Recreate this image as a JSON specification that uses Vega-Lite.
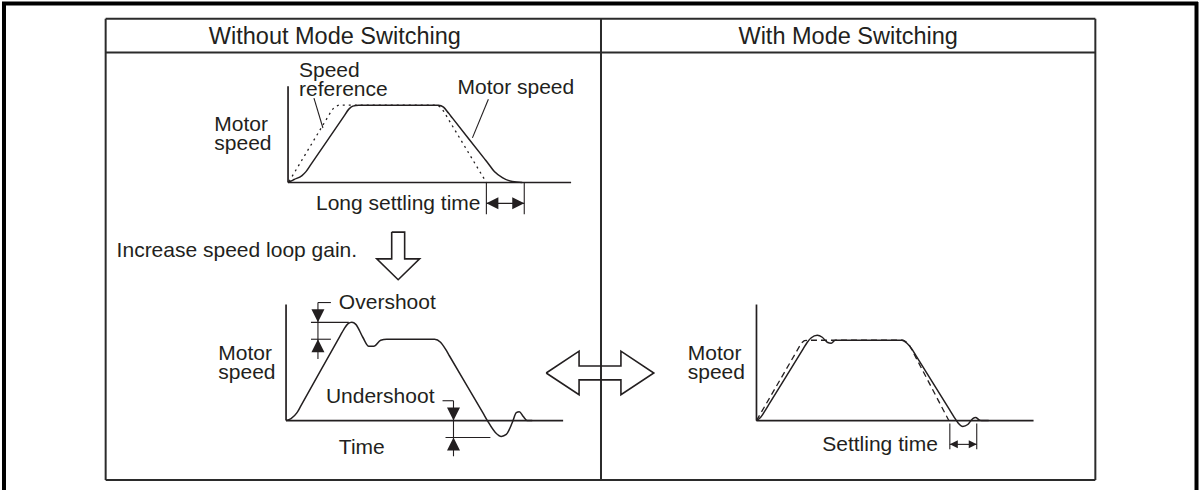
{
  "$schema": "https://vega.github.io/schema/vega-lite/v6.json",
  "width": 1200,
  "height": 492,
  "padding": 0,
  "autosize": {"type": "fit", "contains": "padding"},
  "background": "white",
  "config": {"view": {"stroke": null}},
  "datasets": {
    "frame": [
      {"x1": 0, "y1": 1.5, "x2": 1200, "y2": 1.5},
      {"x1": 2, "y1": 0, "x2": 2, "y2": 492},
      {"x1": 1198.5, "y1": 0, "x2": 1198.5, "y2": 492}
    ],
    "table": [
      {"x1": 104, "y1": 17, "x2": 1097, "y2": 17},
      {"x1": 104, "y1": 482, "x2": 1097, "y2": 482},
      {"x1": 104, "y1": 17, "x2": 104, "y2": 482},
      {"x1": 1097, "y1": 17, "x2": 1097, "y2": 482},
      {"x1": 104, "y1": 51, "x2": 1097, "y2": 51},
      {"x1": 601, "y1": 17, "x2": 601, "y2": 482}
    ],
    "axes": [
      {"x1": 287, "y1": 85, "x2": 287, "y2": 182},
      {"x1": 287, "y1": 182, "x2": 571, "y2": 182},
      {"x1": 285, "y1": 305, "x2": 285, "y2": 422},
      {"x1": 285, "y1": 422, "x2": 563, "y2": 422},
      {"x1": 757, "y1": 305, "x2": 757, "y2": 422},
      {"x1": 757, "y1": 422, "x2": 1035, "y2": 422}
    ],
    "thin": [
      {"x1": 313, "y1": 97, "x2": 322, "y2": 127},
      {"x1": 488, "y1": 98, "x2": 472, "y2": 137},
      {"x1": 486, "y1": 182, "x2": 486, "y2": 214},
      {"x1": 524, "y1": 182, "x2": 524, "y2": 214},
      {"x1": 486, "y1": 203, "x2": 524, "y2": 203},
      {"x1": 317, "y1": 303, "x2": 330, "y2": 303},
      {"x1": 317, "y1": 303, "x2": 317, "y2": 360},
      {"x1": 310, "y1": 323, "x2": 348, "y2": 323},
      {"x1": 310, "y1": 340, "x2": 330, "y2": 340},
      {"x1": 442, "y1": 402, "x2": 453, "y2": 402},
      {"x1": 453, "y1": 402, "x2": 453, "y2": 458},
      {"x1": 445, "y1": 439, "x2": 490, "y2": 439},
      {"x1": 951, "y1": 425, "x2": 951, "y2": 451},
      {"x1": 978, "y1": 425, "x2": 978, "y2": 451},
      {"x1": 951, "y1": 446, "x2": 978, "y2": 446}
    ],
    "outline": [
      {"id": "down", "i": 0, "x": 391, "y": 232},
      {"id": "down", "i": 1, "x": 404, "y": 232},
      {"id": "down", "i": 2, "x": 404, "y": 259},
      {"id": "down", "i": 3, "x": 419, "y": 259},
      {"id": "down", "i": 4, "x": 397.5, "y": 280},
      {"id": "down", "i": 5, "x": 376, "y": 259},
      {"id": "down", "i": 6, "x": 391, "y": 259},
      {"id": "down", "i": 7, "x": 391, "y": 232},
      {"id": "both", "i": 0, "x": 546, "y": 374},
      {"id": "both", "i": 1, "x": 579, "y": 352},
      {"id": "both", "i": 2, "x": 579, "y": 367},
      {"id": "both", "i": 3, "x": 621, "y": 367},
      {"id": "both", "i": 4, "x": 621, "y": 352},
      {"id": "both", "i": 5, "x": 654, "y": 374},
      {"id": "both", "i": 6, "x": 621, "y": 396},
      {"id": "both", "i": 7, "x": 621, "y": 381},
      {"id": "both", "i": 8, "x": 579, "y": 381},
      {"id": "both", "i": 9, "x": 579, "y": 396},
      {"id": "both", "i": 10, "x": 546, "y": 374}
    ],
    "solid": [
      {"id": "tl", "i": 0, "x": 287, "y": 182},
      {"id": "tl", "i": 1, "x": 293, "y": 179},
      {"id": "tl", "i": 2, "x": 301, "y": 175},
      {"id": "tl", "i": 3, "x": 305, "y": 171},
      {"id": "tl", "i": 4, "x": 310, "y": 163.7},
      {"id": "tl", "i": 5, "x": 343, "y": 115.3},
      {"id": "tl", "i": 6, "x": 348, "y": 108},
      {"id": "tl", "i": 7, "x": 352, "y": 105},
      {"id": "tl", "i": 8, "x": 358, "y": 104},
      {"id": "tl", "i": 9, "x": 438, "y": 104},
      {"id": "tl", "i": 10, "x": 443, "y": 106},
      {"id": "tl", "i": 11, "x": 448, "y": 112},
      {"id": "tl", "i": 12, "x": 452, "y": 117.1},
      {"id": "tl", "i": 13, "x": 484, "y": 157.9},
      {"id": "tl", "i": 14, "x": 488, "y": 163},
      {"id": "tl", "i": 15, "x": 494, "y": 171},
      {"id": "tl", "i": 16, "x": 502, "y": 177},
      {"id": "tl", "i": 17, "x": 512, "y": 181},
      {"id": "tl", "i": 18, "x": 522, "y": 182},
      {"id": "bl", "i": 0, "x": 285, "y": 422},
      {"id": "bl", "i": 1, "x": 290, "y": 420},
      {"id": "bl", "i": 2, "x": 296, "y": 414},
      {"id": "bl", "i": 3, "x": 300, "y": 406.9},
      {"id": "bl", "i": 4, "x": 339, "y": 337.1},
      {"id": "bl", "i": 5, "x": 343, "y": 330},
      {"id": "bl", "i": 6, "x": 347, "y": 324.5},
      {"id": "bl", "i": 7, "x": 351, "y": 323},
      {"id": "bl", "i": 8, "x": 355, "y": 325},
      {"id": "bl", "i": 9, "x": 362, "y": 338},
      {"id": "bl", "i": 10, "x": 368, "y": 347},
      {"id": "bl", "i": 11, "x": 373, "y": 347},
      {"id": "bl", "i": 12, "x": 380, "y": 341},
      {"id": "bl", "i": 13, "x": 386, "y": 340},
      {"id": "bl", "i": 14, "x": 434, "y": 340},
      {"id": "bl", "i": 15, "x": 440, "y": 343},
      {"id": "bl", "i": 16, "x": 445, "y": 350},
      {"id": "bl", "i": 17, "x": 449, "y": 356.9},
      {"id": "bl", "i": 18, "x": 483, "y": 415.1},
      {"id": "bl", "i": 19, "x": 487, "y": 422},
      {"id": "bl", "i": 20, "x": 495, "y": 434},
      {"id": "bl", "i": 21, "x": 501, "y": 438},
      {"id": "bl", "i": 22, "x": 506, "y": 436},
      {"id": "bl", "i": 23, "x": 512, "y": 424},
      {"id": "bl", "i": 24, "x": 516, "y": 414},
      {"id": "bl", "i": 25, "x": 519, "y": 413},
      {"id": "bl", "i": 26, "x": 523, "y": 418},
      {"id": "bl", "i": 27, "x": 527, "y": 422},
      {"id": "bl", "i": 28, "x": 532, "y": 422},
      {"id": "r", "i": 0, "x": 757, "y": 422},
      {"id": "r", "i": 1, "x": 761, "y": 419},
      {"id": "r", "i": 2, "x": 765, "y": 413},
      {"id": "r", "i": 3, "x": 769, "y": 406.5},
      {"id": "r", "i": 4, "x": 804, "y": 349.5},
      {"id": "r", "i": 5, "x": 808, "y": 343},
      {"id": "r", "i": 6, "x": 812, "y": 338.5},
      {"id": "r", "i": 7, "x": 818, "y": 336},
      {"id": "r", "i": 8, "x": 823, "y": 338},
      {"id": "r", "i": 9, "x": 828, "y": 343},
      {"id": "r", "i": 10, "x": 832, "y": 344},
      {"id": "r", "i": 11, "x": 836, "y": 341},
      {"id": "r", "i": 12, "x": 903, "y": 341},
      {"id": "r", "i": 13, "x": 908, "y": 344},
      {"id": "r", "i": 14, "x": 913, "y": 350},
      {"id": "r", "i": 15, "x": 917, "y": 356.5},
      {"id": "r", "i": 16, "x": 951, "y": 411.5},
      {"id": "r", "i": 17, "x": 955, "y": 418},
      {"id": "r", "i": 18, "x": 959, "y": 424},
      {"id": "r", "i": 19, "x": 964, "y": 428},
      {"id": "r", "i": 20, "x": 969, "y": 426},
      {"id": "r", "i": 21, "x": 974, "y": 420},
      {"id": "r", "i": 22, "x": 977, "y": 419},
      {"id": "r", "i": 23, "x": 980, "y": 421},
      {"id": "r", "i": 24, "x": 983, "y": 422},
      {"id": "r", "i": 25, "x": 990, "y": 422}
    ],
    "dotted": [
      {"id": "tlref", "i": 0, "x": 288, "y": 181},
      {"id": "tlref", "i": 1, "x": 331, "y": 109},
      {"id": "tlref", "i": 2, "x": 334, "y": 105.5},
      {"id": "tlref", "i": 3, "x": 338, "y": 104},
      {"id": "tlref", "i": 4, "x": 436, "y": 104},
      {"id": "tlref", "i": 5, "x": 440, "y": 106},
      {"id": "tlref", "i": 6, "x": 443, "y": 110},
      {"id": "tlref", "i": 7, "x": 486, "y": 182}
    ],
    "dashed": [
      {"id": "rref", "i": 0, "x": 757, "y": 422},
      {"id": "rref", "i": 1, "x": 802, "y": 344},
      {"id": "rref", "i": 2, "x": 805, "y": 341.5},
      {"id": "rref", "i": 3, "x": 808, "y": 341},
      {"id": "rref", "i": 4, "x": 904, "y": 341},
      {"id": "rref", "i": 5, "x": 908, "y": 343},
      {"id": "rref", "i": 6, "x": 911, "y": 347},
      {"id": "rref", "i": 7, "x": 950, "y": 422}
    ],
    "headsV": [
      {"x": 317, "y": 323, "dir": "down"},
      {"x": 317, "y": 340, "dir": "up"},
      {"x": 453, "y": 422, "dir": "down"},
      {"x": 453, "y": 439, "dir": "up"}
    ],
    "headsH": [
      {"x": 486, "y": 203, "dir": "left"},
      {"x": 524, "y": 203, "dir": "right"}
    ],
    "headsS": [
      {"x": 951, "y": 446, "dir": "left"},
      {"x": 978, "y": 446, "dir": "right"}
    ],
    "textLeft": [
      {"x": 298, "y": 76, "text": "Speed"},
      {"x": 298, "y": 95, "text": "reference"},
      {"x": 457, "y": 93, "text": "Motor speed"},
      {"x": 213, "y": 130, "text": "Motor"},
      {"x": 213, "y": 149, "text": "speed"},
      {"x": 315, "y": 210, "text": "Long settling time"},
      {"x": 115, "y": 257, "text": "Increase speed loop gain."},
      {"x": 338, "y": 310, "text": "Overshoot"},
      {"x": 217, "y": 361, "text": "Motor"},
      {"x": 217, "y": 380, "text": "speed"},
      {"x": 325, "y": 404, "text": "Undershoot"},
      {"x": 338, "y": 456, "text": "Time"},
      {"x": 688, "y": 361, "text": "Motor"},
      {"x": 688, "y": 380, "text": "speed"},
      {"x": 823, "y": 453, "text": "Settling time"}
    ],
    "textHead": [
      {"x": 334, "y": 42, "text": "Without Mode Switching"},
      {"x": 849, "y": 42, "text": "With Mode Switching"}
    ]
  },
  "encoding": {
    "x": {"field": "x1", "type": "quantitative", "scale": {"domain": [0, 1200], "nice": false, "zero": false}, "axis": null},
    "y": {"field": "y1", "type": "quantitative", "scale": {"domain": [0, 492], "reverse": true, "nice": false, "zero": false}, "axis": null}
  },
  "layer": [
    {
      "data": {"name": "table"},
      "mark": {"type": "rule", "color": "#2b2b2b", "strokeWidth": 2},
      "encoding": {"x2": {"field": "x2"}, "y2": {"field": "y2"}}
    },
    {
      "data": {"name": "frame"},
      "mark": {"type": "rule", "color": "#000000", "strokeWidth": 4},
      "encoding": {"x2": {"field": "x2"}, "y2": {"field": "y2"}}
    },
    {
      "data": {"name": "axes"},
      "mark": {"type": "rule", "color": "#231f20", "strokeWidth": 1.7},
      "encoding": {"x2": {"field": "x2"}, "y2": {"field": "y2"}}
    },
    {
      "data": {"name": "thin"},
      "mark": {"type": "rule", "color": "#231f20", "strokeWidth": 1.1},
      "encoding": {"x2": {"field": "x2"}, "y2": {"field": "y2"}}
    },
    {
      "data": {"name": "outline"},
      "mark": {"type": "line", "color": "#231f20", "strokeWidth": 1.6, "strokeJoin": "miter"},
      "encoding": {
        "x": {"field": "x", "type": "quantitative"},
        "y": {"field": "y", "type": "quantitative"},
        "detail": {"field": "id"},
        "order": {"field": "i", "type": "quantitative"}
      }
    },
    {
      "data": {"name": "solid"},
      "mark": {"type": "line", "color": "#231f20", "strokeWidth": 1.5, "interpolate": "monotone"},
      "encoding": {
        "x": {"field": "x", "type": "quantitative"},
        "y": {"field": "y", "type": "quantitative"},
        "detail": {"field": "id"},
        "order": {"field": "i", "type": "quantitative"}
      }
    },
    {
      "data": {"name": "dotted"},
      "mark": {"type": "line", "color": "#231f20", "strokeWidth": 1.3, "strokeDash": [2, 4], "interpolate": "linear"},
      "encoding": {
        "x": {"field": "x", "type": "quantitative"},
        "y": {"field": "y", "type": "quantitative"},
        "detail": {"field": "id"},
        "order": {"field": "i", "type": "quantitative"}
      }
    },
    {
      "data": {"name": "dashed"},
      "mark": {"type": "line", "color": "#231f20", "strokeWidth": 1.3, "strokeDash": [6, 4], "interpolate": "linear"},
      "encoding": {
        "x": {"field": "x", "type": "quantitative"},
        "y": {"field": "y", "type": "quantitative"},
        "detail": {"field": "id"},
        "order": {"field": "i", "type": "quantitative"}
      }
    },
    {
      "data": {"name": "headsV"},
      "mark": {"type": "point", "filled": true, "color": "#231f20", "opacity": 1, "strokeWidth": 0, "size": 169},
      "encoding": {
        "x": {"field": "x", "type": "quantitative"},
        "y": {"field": "y", "type": "quantitative"},
        "shape": {"field": "dir", "type": "nominal", "legend": null, "scale": {"domain": ["down", "up", "left", "right"], "range": ["M0,0L-1,-2L1,-2Z", "M0,0L-1,2L1,2Z", "M0,0L2,-1L2,1Z", "M0,0L-2,-1L-2,1Z"]}}
      }
    },
    {
      "data": {"name": "headsH"},
      "mark": {"type": "point", "filled": true, "color": "#231f20", "opacity": 1, "strokeWidth": 0, "size": 144},
      "encoding": {
        "x": {"field": "x", "type": "quantitative"},
        "y": {"field": "y", "type": "quantitative"},
        "shape": {"field": "dir", "type": "nominal", "legend": null}
      }
    },
    {
      "data": {"name": "headsS"},
      "mark": {"type": "point", "filled": true, "color": "#231f20", "opacity": 1, "strokeWidth": 0, "size": 64},
      "encoding": {
        "x": {"field": "x", "type": "quantitative"},
        "y": {"field": "y", "type": "quantitative"},
        "shape": {"field": "dir", "type": "nominal", "legend": null}
      }
    },
    {
      "data": {"name": "textLeft"},
      "mark": {"type": "text", "align": "left", "baseline": "alphabetic", "font": "Liberation Sans", "fontSize": 21, "color": "#231f20"},
      "encoding": {
        "x": {"field": "x", "type": "quantitative"},
        "y": {"field": "y", "type": "quantitative"},
        "text": {"field": "text"}
      }
    },
    {
      "data": {"name": "textHead"},
      "mark": {"type": "text", "align": "center", "baseline": "alphabetic", "font": "Liberation Sans", "fontSize": 23.5, "color": "#231f20"},
      "encoding": {
        "x": {"field": "x", "type": "quantitative"},
        "y": {"field": "y", "type": "quantitative"},
        "text": {"field": "text"}
      }
    }
  ]
}
